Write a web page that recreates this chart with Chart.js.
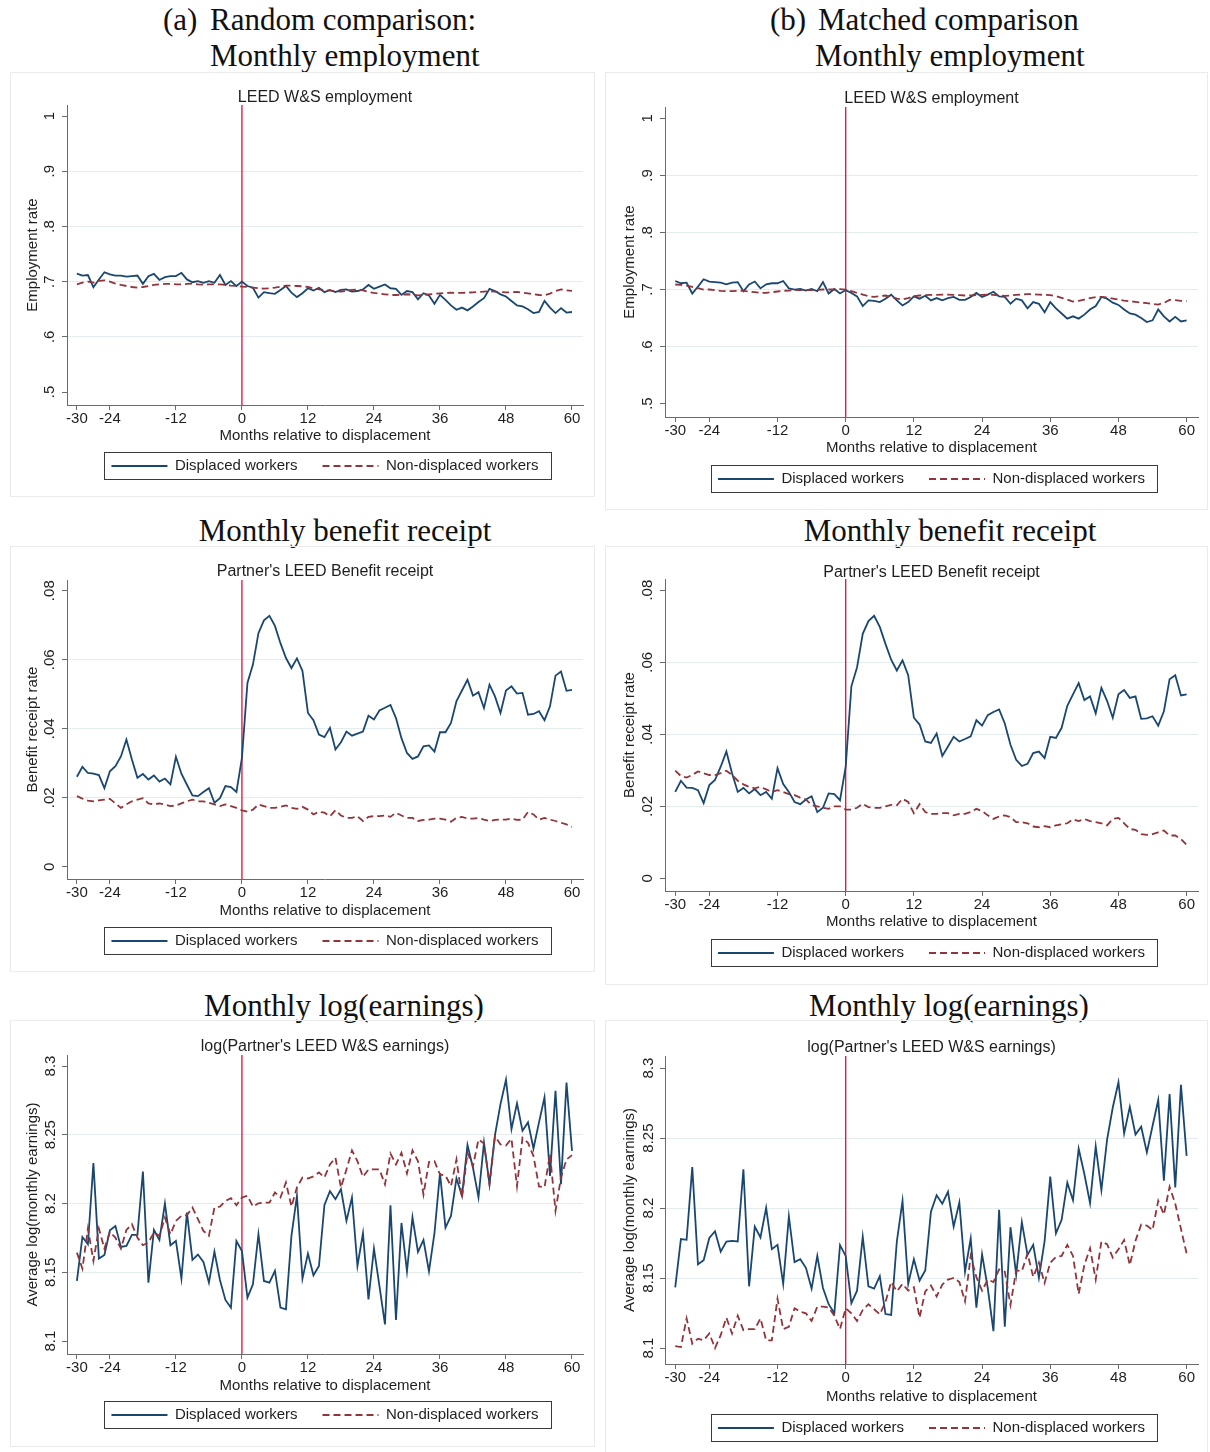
<!DOCTYPE html>
<html>
<head>
<meta charset="utf-8">
<script src="https://cdn.jsdelivr.net/npm/chart.js@4.4.1/dist/chart.umd.min.js"></script>
<style>
  html, body { margin: 0; padding: 0; background: #fff; }
  #page { position: relative; width: 1210px; height: 1452px; overflow: hidden; background: #fff; }
  .head { position: absolute; font-family: "Liberation Serif", "Times New Roman", serif; font-size: 31px;
          line-height: 36px; color: #111; white-space: pre; }
  .centered { transform: translateX(-50%); }
  .panel { position: absolute; border: 1px solid #ebebeb; box-sizing: border-box; }
  .panel canvas { position: absolute; left: -1px; top: -1px; }
</style>
</head>
<body>
<div id="page">
  <div class="head" style="left:163px;top:2px">(a)</div>
  <div class="head" style="left:210px;top:2px">Random comparison:</div>
  <div class="head" style="left:210px;top:38px">Monthly employment</div>
  <div class="head" style="left:770px;top:2px">(b)</div>
  <div class="head" style="left:818px;top:2px">Matched comparison</div>
  <div class="head" style="left:815px;top:38px">Monthly employment</div>
  <div class="head centered" style="left:345px;top:513px">Monthly benefit receipt</div>
  <div class="head centered" style="left:950px;top:513px">Monthly benefit receipt</div>
  <div class="head centered" style="left:344px;top:988px">Monthly log(earnings)</div>
  <div class="head centered" style="left:949px;top:988px">Monthly log(earnings)</div>
</div>
<script>
// Months relative to displacement
const months = [-30,-29,-28,-27,-26,-25,-24,-23,-22,-21,
  -20,-19,-18,-17,-16,-15,-14,-13,-12,-11,
  -10,-9,-8,-7,-6,-5,-4,-3,-2,-1,
  0,1,2,3,4,5,6,7,8,9,
  10,11,12,13,14,15,16,17,18,19,
  20,21,22,23,24,25,26,27,28,29,
  30,31,32,33,34,35,36,37,38,39,
  40,41,42,43,44,45,46,47,48,49,
  50,51,52,53,54,55,56,57,58,59,
  60];

const xTickValues = [-30, -24, -12, 0, 12, 24, 36, 48, 60];
const empTicks = [0.5, 0.6, 0.7, 0.8, 0.9, 1];
const empTickLabels = ['.5', '.6', '.7', '.8', '.9', '1'];
const benTicks = [0, 0.02, 0.04, 0.06, 0.08];
const benTickLabels = ['0', '.02', '.04', '.06', '.08'];
const earnTicks = [8.1, 8.15, 8.2, 8.25, 8.3];
const earnTickLabels = ['8.1', '8.15', '8.2', '8.25', '8.3'];

// (a) Random comparison: employment rate
const empRandomDisplaced = [
  0.7145, 0.711, 0.712, 0.690, 0.704, 0.717, 0.713, 0.711, 0.711, 0.709,
  0.710, 0.711, 0.696, 0.710, 0.714, 0.703, 0.708, 0.710, 0.710, 0.716,
  0.704, 0.699, 0.701, 0.698, 0.701, 0.698, 0.712, 0.694, 0.701, 0.692,
  0.700, 0.692, 0.689, 0.671, 0.681, 0.679, 0.678, 0.685, 0.692, 0.680,
  0.672, 0.679, 0.688, 0.684, 0.689, 0.681, 0.685, 0.681, 0.685, 0.686,
  0.682, 0.683, 0.686, 0.694, 0.687, 0.691, 0.695, 0.688, 0.687, 0.676,
  0.683, 0.681, 0.668, 0.679, 0.675, 0.660, 0.676, 0.667, 0.657, 0.649,
  0.653, 0.648, 0.655, 0.663, 0.670, 0.687, 0.683, 0.677, 0.673, 0.665,
  0.657, 0.655, 0.650, 0.643, 0.645, 0.665, 0.653, 0.643, 0.652, 0.644,
  0.645];
const empRandomNonDisplaced = [
  0.6952, 0.6982, 0.7000, 0.6982, 0.7012, 0.7024, 0.7000, 0.6964, 0.6940, 0.6921,
  0.6903, 0.6891, 0.6903, 0.6921, 0.6940, 0.6952, 0.6958, 0.6958, 0.6952, 0.6952,
  0.6958, 0.6964, 0.6952, 0.6946, 0.6952, 0.6952, 0.6952, 0.6940, 0.6928, 0.6921,
  0.6909, 0.6903, 0.6891, 0.6879, 0.6873, 0.6879, 0.6891, 0.6909, 0.6928, 0.6928,
  0.6921, 0.6915, 0.6903, 0.6879, 0.6861, 0.6849, 0.6837, 0.6831, 0.6819, 0.6831,
  0.6849, 0.6855, 0.6843, 0.6813, 0.6795, 0.6783, 0.6771, 0.6758, 0.6758, 0.6764,
  0.6771, 0.6764, 0.6752, 0.6758, 0.6771, 0.6777, 0.6789, 0.6795, 0.6801, 0.6795,
  0.6795, 0.6801, 0.6807, 0.6813, 0.6819, 0.6825, 0.6819, 0.6813, 0.6807, 0.6807,
  0.6813, 0.6801, 0.6789, 0.6771, 0.6758, 0.6752, 0.6783, 0.6831, 0.6861, 0.6843,
  0.6831];

// (b) Matched comparison: employment rate
const empMatchedDisplaced = [
  0.715, 0.711, 0.712, 0.693, 0.705, 0.718, 0.714, 0.713, 0.712, 0.709,
  0.712, 0.713, 0.697, 0.709, 0.714, 0.702, 0.709, 0.711, 0.711, 0.715,
  0.702, 0.700, 0.701, 0.698, 0.701, 0.697, 0.713, 0.693, 0.701, 0.693,
  0.699, 0.694, 0.688, 0.671, 0.681, 0.680, 0.678, 0.684, 0.691, 0.681,
  0.672, 0.678, 0.688, 0.684, 0.689, 0.681, 0.685, 0.681, 0.685, 0.687,
  0.682, 0.682, 0.687, 0.694, 0.687, 0.691, 0.696, 0.688, 0.687, 0.675,
  0.684, 0.681, 0.667, 0.678, 0.675, 0.660, 0.678, 0.667, 0.658, 0.649,
  0.653, 0.649, 0.656, 0.665, 0.671, 0.687, 0.684, 0.677, 0.673, 0.665,
  0.658, 0.656, 0.650, 0.643, 0.646, 0.665, 0.653, 0.644, 0.652, 0.644,
  0.646];
const empMatchedNonDisplaced = [
  0.7088, 0.7082, 0.7070, 0.7047, 0.7023, 0.7000, 0.7000, 0.6988, 0.6977, 0.6971,
  0.6971, 0.6977, 0.6977, 0.6965, 0.6953, 0.6942, 0.6942, 0.6953, 0.6965, 0.6977,
  0.6982, 0.6988, 0.6988, 0.6988, 0.6988, 0.6994, 0.7000, 0.7000, 0.7000, 0.7006,
  0.7000, 0.6971, 0.6942, 0.6912, 0.6883, 0.6871, 0.6883, 0.6895, 0.6871, 0.6842,
  0.6825, 0.6848, 0.6883, 0.6895, 0.6901, 0.6906, 0.6906, 0.6912, 0.6912, 0.6906,
  0.6901, 0.6895, 0.6895, 0.6901, 0.6906, 0.6912, 0.6906, 0.6895, 0.6889, 0.6895,
  0.6906, 0.6912, 0.6918, 0.6918, 0.6912, 0.6906, 0.6901, 0.6883, 0.6854, 0.6825,
  0.6789, 0.6801, 0.6825, 0.6848, 0.6866, 0.6871, 0.6860, 0.6842, 0.6825, 0.6807,
  0.6795, 0.6784, 0.6772, 0.6760, 0.6749, 0.6737, 0.6766, 0.6819, 0.6813, 0.6801,
  0.6795];

// Partner's benefit receipt rate
const benRandomDisplaced = [
  0.0261, 0.0290, 0.0272, 0.0270, 0.0266, 0.0228, 0.0277, 0.0292, 0.0320, 0.0369,
  0.0311, 0.0258, 0.0269, 0.0253, 0.0265, 0.0247, 0.0256, 0.0239, 0.0319, 0.0270,
  0.0238, 0.0207, 0.0205, 0.0217, 0.0228, 0.0186, 0.0199, 0.0234, 0.0231, 0.0217,
  0.0316, 0.0533, 0.0586, 0.0677, 0.0714, 0.0727, 0.0698, 0.0648, 0.0605, 0.0576,
  0.0604, 0.0568, 0.0446, 0.0425, 0.0383, 0.0376, 0.0403, 0.0340, 0.0361, 0.0392,
  0.0380, 0.0386, 0.0392, 0.0438, 0.0427, 0.0453, 0.0461, 0.0469, 0.0431, 0.0373,
  0.0330, 0.0313, 0.0320, 0.0349, 0.0352, 0.0334, 0.0390, 0.0390, 0.0417, 0.0480,
  0.0511, 0.0542, 0.0496, 0.0506, 0.0460, 0.0528, 0.0494, 0.0446, 0.0511, 0.0523,
  0.0502, 0.0504, 0.0441, 0.0443, 0.0451, 0.0425, 0.0465, 0.0554, 0.0566, 0.0510,
  0.0513];
const benRandomNonDisplaced = [
  0.0205, 0.0198, 0.0192, 0.0190, 0.0193, 0.0195, 0.0197, 0.0184, 0.0171, 0.0181,
  0.0190, 0.0195, 0.0199, 0.0184, 0.0181, 0.0184, 0.0181, 0.0176, 0.0178, 0.0184,
  0.0190, 0.0195, 0.0190, 0.0190, 0.0186, 0.0181, 0.0176, 0.0181, 0.0176, 0.0171,
  0.0164, 0.0160, 0.0166, 0.0181, 0.0176, 0.0171, 0.0171, 0.0174, 0.0178, 0.0171,
  0.0168, 0.0174, 0.0166, 0.0152, 0.0160, 0.0157, 0.0147, 0.0164, 0.0149, 0.0142,
  0.0142, 0.0147, 0.0133, 0.0145, 0.0147, 0.0147, 0.0149, 0.0145, 0.0157, 0.0149,
  0.0142, 0.0142, 0.0133, 0.0136, 0.0137, 0.0140, 0.0140, 0.0137, 0.0131, 0.0142,
  0.0145, 0.0140, 0.0140, 0.0142, 0.0137, 0.0133, 0.0136, 0.0137, 0.0137, 0.0140,
  0.0136, 0.0137, 0.0159, 0.0152, 0.0137, 0.0142, 0.0137, 0.0133, 0.0128, 0.0123,
  0.0116];
const benMatchedDisplaced = [
  0.0240, 0.0271, 0.0252, 0.0251, 0.0245, 0.0209, 0.0259, 0.0273, 0.0310, 0.0352,
  0.0292, 0.0240, 0.0251, 0.0236, 0.0248, 0.0231, 0.0240, 0.0221, 0.0306, 0.0262,
  0.0240, 0.0212, 0.0206, 0.0219, 0.0228, 0.0184, 0.0196, 0.0236, 0.0234, 0.0217,
  0.0310, 0.0533, 0.0586, 0.0679, 0.0714, 0.0729, 0.0698, 0.0651, 0.0607, 0.0577,
  0.0605, 0.0564, 0.0446, 0.0427, 0.0380, 0.0376, 0.0402, 0.0340, 0.0366, 0.0393,
  0.0380, 0.0387, 0.0394, 0.0439, 0.0424, 0.0453, 0.0462, 0.0469, 0.0430, 0.0371,
  0.0329, 0.0312, 0.0318, 0.0348, 0.0352, 0.0334, 0.0393, 0.0390, 0.0418, 0.0479,
  0.0511, 0.0542, 0.0495, 0.0505, 0.0458, 0.0529, 0.0493, 0.0446, 0.0511, 0.0523,
  0.0501, 0.0505, 0.0443, 0.0444, 0.0450, 0.0424, 0.0464, 0.0553, 0.0564, 0.0508,
  0.0511];
const benMatchedNonDisplaced = [
  0.0299, 0.0284, 0.0280, 0.0287, 0.0297, 0.0292, 0.0287, 0.0287, 0.0292, 0.0299,
  0.0287, 0.0271, 0.0261, 0.0254, 0.0250, 0.0254, 0.0247, 0.0240, 0.0245, 0.0240,
  0.0234, 0.0231, 0.0224, 0.0219, 0.0203, 0.0200, 0.0196, 0.0193, 0.0200, 0.0200,
  0.0191, 0.0191, 0.0196, 0.0207, 0.0198, 0.0196, 0.0196, 0.0200, 0.0204, 0.0203,
  0.0221, 0.0212, 0.0181, 0.0206, 0.0184, 0.0179, 0.0179, 0.0181, 0.0181, 0.0175,
  0.0179, 0.0179, 0.0184, 0.0193, 0.0187, 0.0175, 0.0165, 0.0172, 0.0175, 0.0170,
  0.0156, 0.0156, 0.0153, 0.0144, 0.0142, 0.0145, 0.0142, 0.0147, 0.0150, 0.0153,
  0.0164, 0.0159, 0.0165, 0.0159, 0.0156, 0.0153, 0.0147, 0.0165, 0.0168, 0.0153,
  0.0137, 0.0135, 0.0123, 0.0121, 0.0123, 0.0128, 0.0133, 0.0119, 0.0119, 0.0109,
  0.0093];

// Average log(monthly earnings) of the partner
const earnRandomDisplaced = [
  8.1437, 8.1757, 8.1704, 8.2294, 8.1600, 8.1626, 8.1806, 8.1837, 8.1684, 8.1692,
  8.1772, 8.1772, 8.2233, 8.1425, 8.1808, 8.1735, 8.2000, 8.1697, 8.1728, 8.1454,
  8.1934, 8.1590, 8.1629, 8.1575, 8.1425, 8.1650, 8.1444, 8.1299, 8.1243, 8.1728,
  8.1655, 8.1316, 8.1413, 8.1777, 8.1437, 8.1425, 8.1510, 8.1243, 8.1231, 8.1765,
  8.2056, 8.1454, 8.1636, 8.1478, 8.1546, 8.1990, 8.2090, 8.2032, 8.2104, 8.1874,
  8.2044, 8.1546, 8.1784, 8.1303, 8.1672, 8.1400, 8.1121, 8.1988, 8.1153, 8.1859,
  8.1507, 8.1900, 8.1648, 8.1735, 8.1507, 8.1784, 8.2221, 8.1825, 8.1910, 8.2184,
  8.2056, 8.2425, 8.2260, 8.2044, 8.2444, 8.2141, 8.2498, 8.2723, 8.2900, 8.2541,
  8.2728, 8.2529, 8.2590, 8.2400, 8.2590, 8.2772, 8.2201, 8.2820, 8.2141, 8.2879,
  8.2383];
const earnRandomNonDisplaced = [
  8.1643, 8.1527, 8.1818, 8.1583, 8.1818, 8.1672, 8.1794, 8.1752, 8.1672, 8.1808,
  8.1850, 8.1752, 8.1697, 8.1716, 8.1789, 8.1765, 8.1898, 8.1777, 8.1874, 8.1910,
  8.1915, 8.1971, 8.1886, 8.1801, 8.1765, 8.1971, 8.1978, 8.2019, 8.2039, 8.1988,
  8.2044, 8.2056, 8.1978, 8.2002, 8.2007, 8.2007, 8.2080, 8.2044, 8.2153, 8.1978,
  8.2117, 8.2189, 8.2182, 8.2197, 8.2226, 8.2190, 8.2284, 8.2333, 8.2117, 8.2248,
  8.2386, 8.2308, 8.2194, 8.2248, 8.2248, 8.2248, 8.2139, 8.2364, 8.2284, 8.2369,
  8.2219, 8.2386, 8.2308, 8.2066, 8.2301, 8.2308, 8.2212, 8.2204, 8.2127, 8.2320,
  8.2041, 8.2369, 8.2272, 8.2466, 8.2437, 8.2139, 8.2490, 8.2430, 8.2422, 8.2471,
  8.2127, 8.2478, 8.2442, 8.2345, 8.2124, 8.2117, 8.2359, 8.1947, 8.2189, 8.2320,
  8.2352];
const earnMatchedDisplaced = [
  8.1434, 8.1778, 8.1773, 8.2292, 8.1598, 8.1627, 8.1786, 8.1834, 8.1689, 8.1761,
  8.1766, 8.1761, 8.2277, 8.1441, 8.1867, 8.1790, 8.2002, 8.1706, 8.1737, 8.1458,
  8.1940, 8.1614, 8.1634, 8.1573, 8.1424, 8.1658, 8.1429, 8.1313, 8.1248, 8.1735,
  8.1658, 8.1320, 8.1410, 8.1795, 8.1441, 8.1424, 8.1513, 8.1243, 8.1236, 8.1761,
  8.2051, 8.1458, 8.1634, 8.1482, 8.1554, 8.1974, 8.2092, 8.2031, 8.2116, 8.1867,
  8.2039, 8.1545, 8.1783, 8.1289, 8.1670, 8.1429, 8.1120, 8.1988, 8.1152, 8.1863,
  8.1525, 8.1899, 8.1665, 8.1737, 8.1501, 8.1761, 8.2224, 8.1819, 8.1916, 8.2181,
  8.2055, 8.2424, 8.2243, 8.2036, 8.2441, 8.2128, 8.2489, 8.2718, 8.2899, 8.2533,
  8.2723, 8.2525, 8.2581, 8.2398, 8.2586, 8.2771, 8.2195, 8.2814, 8.2147, 8.2880,
  8.2373];
const earnMatchedNonDisplaced = [
  8.1014, 8.1007, 8.1212, 8.1031, 8.1067, 8.1055, 8.1104, 8.1000, 8.1092, 8.1217,
  8.1104, 8.1231, 8.1128, 8.1135, 8.1135, 8.1212, 8.1055, 8.1055, 8.1352, 8.1135,
  8.1152, 8.1284, 8.1260, 8.1248, 8.1193, 8.1296, 8.1296, 8.1289, 8.1231, 8.1135,
  8.1284, 8.1248, 8.1193, 8.1272, 8.1313, 8.1277, 8.1241, 8.1328, 8.1472, 8.1405,
  8.1458, 8.1410, 8.1434, 8.1217, 8.1405, 8.1447, 8.1369, 8.1453, 8.1489, 8.1501,
  8.1472, 8.1333, 8.1658, 8.1506, 8.1410, 8.1489, 8.1472, 8.1561, 8.1545, 8.1308,
  8.1554, 8.1549, 8.1675, 8.1508, 8.1610, 8.1465, 8.1610, 8.1651, 8.1658, 8.1737,
  8.1658, 8.1386, 8.1593, 8.1713, 8.1489, 8.1761, 8.1742, 8.1646, 8.1706, 8.1771,
  8.1593, 8.1766, 8.1882, 8.1875, 8.1843, 8.2051, 8.1954, 8.2152, 8.2031, 8.1851,
  8.1675];

// ---- styling ----
const SANS = '"Liberation Sans", Arial, Helvetica, sans-serif';
const NAVY = '#1a476f';
const MAROON = '#90353b';
const XLINE = '#d4143c';
const GRID = '#e4ecee';
const AXIS = '#6b6b6b';
const TXT = '#1e1e1e';
const X_MIN = -31.8, X_MAX = 62;

// Panel layouts in page pixels: box [x, y, w, h], plot area [left, right, top, bottom]
const panels = [
  { box: [10, 72, 585, 425], area: [67, 583, 105, 405], titleY: 97.5, xTitleY: 435.5, legendY: 466, yTitleX: 33,
    title: 'LEED W&S employment', yTitle: 'Employment rate', yRange: [0.4765, 1.02],
    yTicks: empTicks, yLabels: empTickLabels, yPad: 6,
    displaced: empRandomDisplaced, nonDisplaced: empRandomNonDisplaced },
  { box: [605, 72, 603, 438], area: [665, 1198, 107, 417], titleY: 98.5, xTitleY: 447.5, legendY: 479, yTitleX: 630,
    title: 'LEED W&S employment', yTitle: 'Employment rate', yRange: [0.4765, 1.02],
    yTicks: empTicks, yLabels: empTickLabels, yPad: 6,
    displaced: empMatchedDisplaced, nonDisplaced: empMatchedNonDisplaced },
  { box: [10, 546, 585, 426], area: [67, 583, 580, 879], titleY: 571.5, xTitleY: 910.5, legendY: 941, yTitleX: 33,
    title: "Partner's LEED Benefit receipt", yTitle: 'Benefit receipt rate', yRange: [-0.0035, 0.0831],
    yTicks: benTicks, yLabels: benTickLabels, yPad: 2,
    displaced: benRandomDisplaced, nonDisplaced: benRandomNonDisplaced },
  { box: [605, 546, 603, 439], area: [665, 1198, 579, 891], titleY: 572.5, xTitleY: 921.5, legendY: 953, yTitleX: 630,
    title: "Partner's LEED Benefit receipt", yTitle: 'Benefit receipt rate', yRange: [-0.0035, 0.0831],
    yTicks: benTicks, yLabels: benTickLabels, yPad: 2,
    displaced: benMatchedDisplaced, nonDisplaced: benMatchedNonDisplaced },
  { box: [10, 1020, 585, 427], area: [67, 583, 1055, 1354], titleY: 1046.5, xTitleY: 1385.5, legendY: 1415, yTitleX: 33,
    title: "log(Partner's LEED W&S earnings)", yTitle: 'Average log(monthly earnings)', yRange: [8.0906, 8.308],
    yTicks: earnTicks, yLabels: earnTickLabels, yPad: -3,
    displaced: earnRandomDisplaced, nonDisplaced: earnRandomNonDisplaced },
  { box: [605, 1020, 603, 440], area: [665, 1198, 1056, 1364], titleY: 1047.5, xTitleY: 1396.5, legendY: 1428, yTitleX: 630,
    title: "log(Partner's LEED W&S earnings)", yTitle: 'Average log(monthly earnings)', yRange: [8.0886, 8.3086],
    yTicks: earnTicks, yLabels: earnTickLabels, yPad: -3,
    displaced: earnMatchedDisplaced, nonDisplaced: earnMatchedNonDisplaced }
];

// Frame drawn around the legend row
const legendFrame = {
  id: 'legendFrame',
  afterDraw(chart) {
    const lg = chart.legend;
    if (!lg || !lg.legendHitBoxes || !lg.legendHitBoxes.length) return;
    const hb = lg.legendHitBoxes;
    const first = hb[0], last = hb[hb.length - 1];
    const cy = first.top + 7.5;
    const x0 = Math.round(first.left - 7) + 0.5;
    const x1 = Math.round(last.left + last.width + 12) + 0.5;
    const y0 = Math.round(cy - 14) + 0.5;
    const y1 = Math.round(cy + 13) + 0.5;
    const ctx = chart.ctx;
    ctx.save();
    ctx.strokeStyle = '#3a3a3a';
    ctx.lineWidth = 1;
    ctx.setLineDash([]);
    ctx.strokeRect(x0, y0, x1 - x0, y1 - y0);
    ctx.restore();
  }
};

// Legend entries in dataset order, carrying each series' own line style
function legendLabels(chart) {
  const base = Chart.defaults.plugins.legend.labels.generateLabels(chart);
  return base
    .filter(it => it.datasetIndex < 2)
    .sort((a, b) => a.datasetIndex - b.datasetIndex)
    .map(it => {
      const ds = chart.data.datasets[it.datasetIndex];
      return Object.assign(it, {
        lineDash: ds.borderDash || [],
        lineWidth: ds.borderWidth,
        strokeStyle: ds.borderColor,
        fillStyle: ds.borderColor
      });
    });
}

const page = document.getElementById('page');

function makeChart(p) {
  const [bx, by, bw, bh] = p.box;
  const wrap = document.createElement('div');
  wrap.className = 'panel';
  wrap.style.left = bx + 'px';
  wrap.style.top = by + 'px';
  wrap.style.width = bw + 'px';
  wrap.style.height = bh + 'px';
  const cv = document.createElement('canvas');
  cv.width = bw; cv.height = bh;
  cv.style.width = bw + 'px'; cv.style.height = bh + 'px';
  wrap.appendChild(cv);
  page.appendChild(wrap);

  const cl = p.area[0] - bx, cr = p.area[1] - bx, ct = p.area[2] - by, cb = p.area[3] - by;
  const tc = p.titleY - by;
  const lt = p.legendY - by;
  const legendPad = 25;
  const legendTop = lt - 7.5 - legendPad;
  const legendH = 15 + legendPad + 10;
  const xtc = p.xTitleY - by;
  const ytc = p.yTitleX - bx;

  const series = (vals) => months.map((m, i) => ({ x: m, y: vals[i] }));

  new Chart(cv, {
    type: 'line',
    data: {
      datasets: [
        { label: 'Displaced workers', data: series(p.displaced), borderColor: NAVY, backgroundColor: NAVY,
          borderWidth: 1.8, pointRadius: 0, tension: 0, fill: false, order: 2 },
        { label: 'Non-displaced workers', data: series(p.nonDisplaced), borderColor: MAROON, backgroundColor: MAROON,
          borderWidth: 1.8, borderDash: [7, 4], pointRadius: 0, tension: 0, fill: false, order: 1 },
        { label: 'displacement', data: [{ x: 0, y: p.yRange[0] }, { x: 0, y: p.yRange[1] }],
          borderColor: XLINE, borderWidth: 1.3, pointRadius: 0, fill: false, order: 3 }
      ]
    },
    options: {
      responsive: false,
      animation: false,
      devicePixelRatio: 1,
      events: [],
      layout: { padding: { top: 0, left: 0, right: bw - cr, bottom: bh - (legendTop + legendH) } },
      plugins: {
        title: {
          display: true, text: p.title, fullSize: false, color: TXT,
          font: { family: SANS, size: 16, weight: 'normal', lineHeight: 1 },
          padding: { top: tc - 8, bottom: ct - tc - 8 }
        },
        legend: {
          position: 'bottom', fullSize: false,
          labels: {
            generateLabels: legendLabels,
            usePointStyle: true, pointStyle: 'line', pointStyleWidth: 56, boxHeight: 15,
            font: { family: SANS, size: 15 }, color: TXT, padding: legendPad
          }
        },
        tooltip: { enabled: false }
      },
      scales: {
        x: {
          type: 'linear', min: X_MIN, max: X_MAX,
          afterBuildTicks: (s) => { s.ticks = xTickValues.map(v => ({ value: v })); },
          afterFit: (s) => { s.height = legendTop - cb; },
          grid: { drawOnChartArea: false, drawTicks: true, tickLength: 5, tickColor: AXIS },
          border: { color: AXIS, width: 1 },
          ticks: { autoSkip: false, maxRotation: 0, minRotation: 0, padding: 0, color: TXT,
                   font: { family: SANS, size: 15 }, callback: (v) => String(v) },
          title: { display: true, text: 'Months relative to displacement', color: TXT,
                   font: { family: SANS, size: 15 }, padding: { top: 0, bottom: legendTop - xtc - 9 } }
        },
        y: {
          type: 'linear', min: p.yRange[0], max: p.yRange[1],
          afterBuildTicks: (s) => { s.ticks = p.yTicks.map(v => ({ value: v })); },
          afterFit: (s) => { s.width = cl; },
          grid: {
            color: (c) => (c.index === 0 || c.index === p.yTicks.length - 1) ? 'rgba(0,0,0,0)' : GRID,
            lineWidth: 1, drawTicks: true, tickLength: 5, tickColor: AXIS
          },
          border: { color: AXIS, width: 1 },
          ticks: { minRotation: 90, maxRotation: 90, crossAlign: 'center', padding: p.yPad, color: TXT,
                   font: { family: SANS, size: 15 }, callback: (v, i) => p.yLabels[i] },
          title: { display: true, text: p.yTitle, color: TXT,
                   font: { family: SANS, size: 15 }, padding: { top: ytc - 9, bottom: 0 } }
        }
      }
    },
    plugins: [legendFrame]
  });
}

panels.forEach(makeChart);
</script>
</body>
</html>
